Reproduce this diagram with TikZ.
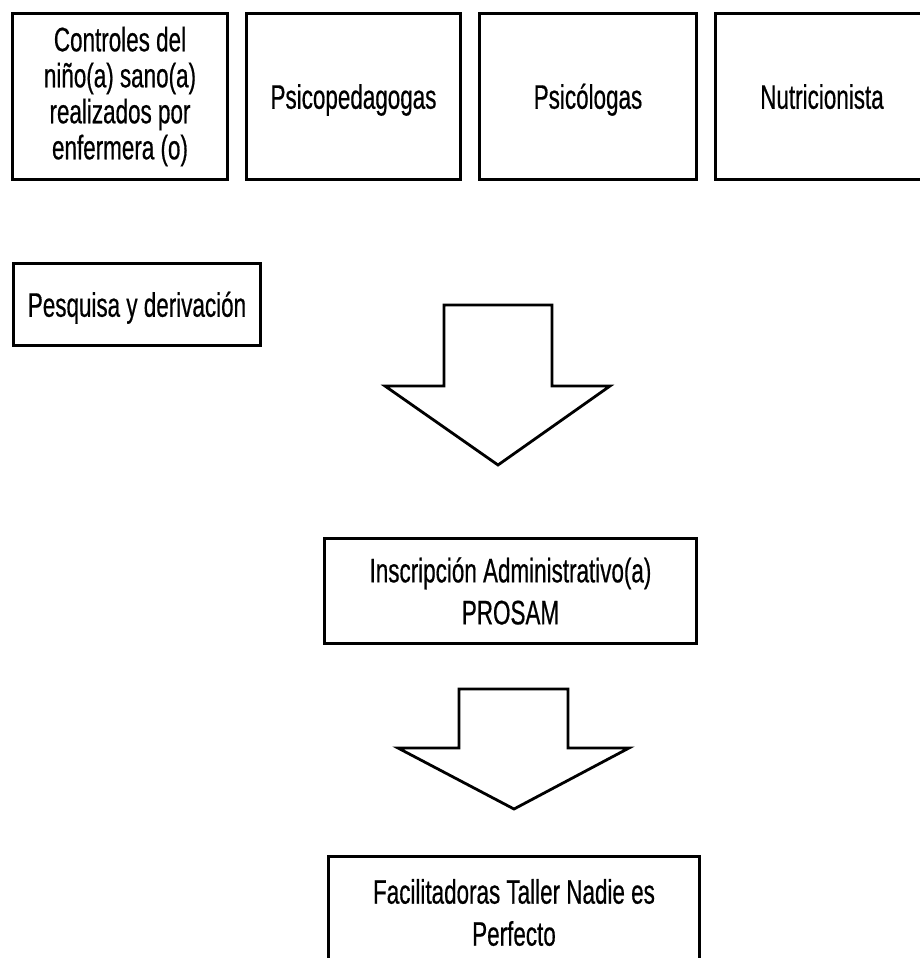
\documentclass[tikz,border=0pt]{standalone}
\usepackage{fontspec}
\newfontfamily\narrowsans{Liberation Sans}[FakeStretch=0.66, FakeBold=0.5]
\begin{document}
\begin{tikzpicture}[x=1pt,y=-1pt]
\tikzset{
  box/.style={draw, line width=3.3pt, align=center, inner sep=0pt,
    font=\narrowsans\fontsize{34}{36}\selectfont},
  lowbox/.style={box, font=\narrowsans\fontsize{34}{42}\selectfont},
  oneline/.style={text height=24.5pt, text depth=0pt},
  blockarrow/.style={draw, line width=2.8pt, fill=white, line join=miter, miter limit=20}
}
\clip (0,0) rectangle (920,958);
\fill[white] (0,0) rectangle (920,958);

% top row
\node[box, minimum width=215pt, minimum height=166pt] (ctrl) at (120,96.5)
  {Controles del\\ niño(a) sano(a)\\ realizados por\\ enfermera (o)};
\node[box, oneline, minimum width=214pt, minimum height=166pt] (psicoped) at (353.5,96.5) {Psicopedagogas};
\node[box, oneline, minimum width=217pt, minimum height=166pt] (psicol) at (588,96.5) {Psicólogas};
\node[box, oneline, minimum width=213pt, minimum height=166pt] (nutri) at (822,96.5) {Nutricionista};

% pesquisa
\node[box, oneline, minimum width=247pt, minimum height=82pt] (pesq) at (137,304.5) {Pesquisa y derivación};

% arrow 1
\draw[blockarrow] (444,305) -- (552,305) -- (552,386) -- (610,386) -- (498,465)
  -- (385,386) -- (444,386) -- cycle;

% inscripcion
\node[lowbox, minimum width=372pt, minimum height=105pt] (insc) at (510.5,591)
  {Inscripción Administrativo(a)\\ PROSAM};

% arrow 2
\draw[blockarrow] (459,689) -- (568,689) -- (568,748) -- (629,748) -- (514,809)
  -- (398,748) -- (459,748) -- cycle;

% facilitadoras
\node[lowbox, minimum width=371pt, minimum height=112pt] (facil) at (514,912.5)
  {Facilitadoras Taller Nadie es\\ Perfecto};
\end{tikzpicture}
\end{document}
